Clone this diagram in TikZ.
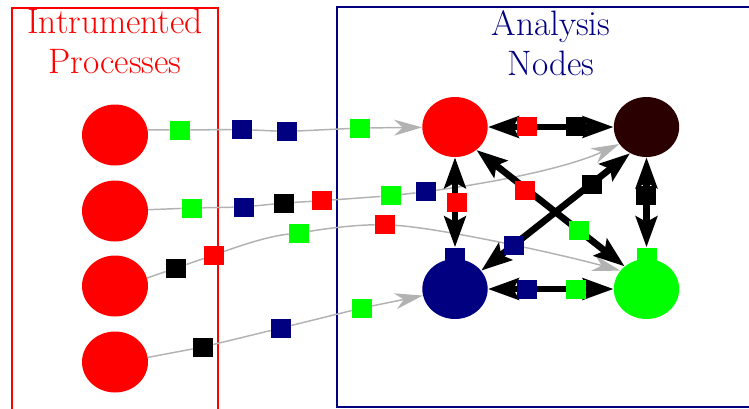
\documentclass[tikz,border=0pt]{standalone}
\usepackage{fontspec}
\usetikzlibrary{shapes.geometric,arrows.meta}
\definecolor{navyc}{RGB}{0,0,128}
\definecolor{greenc}{RGB}{0,255,0}
\definecolor{redc}{RGB}{255,0,0}
\definecolor{brownc}{RGB}{43,0,0}
\definecolor{grayc}{RGB}{178,178,178}
\begin{document}
\begin{tikzpicture}[x=0.75pt,y=-0.75pt,
 procnode/.style={ellipse, fill=redc, minimum width=49.5pt, minimum height=45.75pt, inner sep=0pt},
 anode/.style={ellipse, minimum width=49pt, minimum height=45pt, inner sep=0pt},
 msgsq/.style={rectangle, minimum width=15pt, minimum height=14.25pt, inner sep=0pt},
 tabsq/.style={rectangle, minimum width=15pt, minimum height=15pt, inner sep=0pt},
 graypath/.style={draw=grayc, line width=1.1pt, -{Stealth[length=21pt,width=12pt,inset=6.5pt]}},
 blackarrow/.style={draw=black, line width=5pt, {Stealth[length=23pt,width=16pt,inset=4pt]}-{Stealth[length=23pt,width=16pt,inset=4pt]}},
 titletext/.style={font=\fontsize{26.5}{30}\selectfont, anchor=base, inner sep=0pt}]

\useasboundingbox (0,0) rectangle (749,408);
\clip (0,0) rectangle (749,408);

% boxes
\draw[redc, line width=1.3pt] (11.7,430) -- (11.7,8) -- (217.7,8) -- (217.7,430);
\draw[navyc, line width=1.7pt] (337,6.7) rectangle (760,406.7);

% titles
\node[titletext, text=redc] (ti1) at (115,33.5) {Intrumented};
\node[titletext, text=redc] (ti2) at (115,73) {Processes};
\node[titletext, text=navyc] (ti3) at (551,35) {Analysis};
\node[titletext, text=navyc] (ti4) at (551,75) {Nodes};

% instrumented processes
\node[procnode] (p1) at (115,135) {};
\node[procnode] (p2) at (115,211) {};
\node[procnode] (p3) at (115,286) {};
\node[procnode] (p4) at (115,362) {};

% analysis nodes
\node[tabsq, fill=navyc] (t3) at (455,257.5) {};
\node[tabsq, fill=greenc] (t4) at (646.5,257.5) {};
\node[anode, fill=redc] (a1) at (455,127) {};
\node[anode, fill=brownc] (a2) at (646.5,127) {};
\node[anode, fill=navyc] (a3) at (455,289) {};
\node[anode, fill=greenc] (a4) at (646.5,289) {};

% messages on gray paths
\node[msgsq, fill=greenc] (s11) at (180,130) {};
\node[msgsq, fill=navyc]  (s12) at (242,129.5) {};
\node[msgsq, fill=navyc]  (s13) at (287,131.5) {};
\node[msgsq, fill=greenc] (s14) at (360,128) {};

\node[msgsq, fill=greenc] (s21) at (192,208) {};
\node[msgsq, fill=navyc]  (s22) at (244,207) {};
\node[msgsq, fill=black]  (s23) at (284,203) {};
\node[msgsq, fill=redc]   (s24) at (322,200.7) {};
\node[msgsq, fill=greenc] (s25) at (390.7,195.7) {};
\node[msgsq, fill=navyc]  (s26) at (425.7,191.7) {};

\node[msgsq, fill=black]  (s31) at (176,268) {};
\node[msgsq, fill=redc]   (s32) at (214,255) {};
\node[msgsq, fill=greenc] (s33) at (299,233) {};
\node[msgsq, fill=redc]   (s34) at (385,224.7) {};

\node[msgsq, fill=black]  (s41) at (203,347) {};
\node[msgsq, fill=navyc]  (s42) at (281,328) {};
\node[msgsq, fill=greenc] (s43) at (362,308) {};

% gray paths
\draw[graypath] (p1.9) -- (s11) -- (s12) -- (s13) -- (s14) -- (a1);
\draw[graypath] (p2) -- (s21) -- (s22) -- (s23) -- (s24) -- (s25) -- (s26)
   .. controls (496,182) and (567,168) .. (a2.212);
\draw[graypath] (p3.14) -- (s31) -- (s32)
   .. controls (245,244) and (270,236) .. (s33)
   .. controls (330,228) and (355,225) .. (s34)
   .. controls (440,228) and (560,254) .. (a4.145);
\draw[graypath] (p4.8) -- (s41) -- (s42) -- (s43) -- (a3);

% black links
\draw[blackarrow] (a1) -- (a2);
\draw[blackarrow] (a1) -- (t3);
\draw[blackarrow] (a2) -- (t4);
\draw[blackarrow] (a3) -- (a4);
\draw[blackarrow] (a1.313) -- (a4.134);
\draw[blackarrow] (a3.35) -- (a2.238);

% messages on black links
\node[msgsq, fill=redc]   (q1) at (527,126) {};
\node[msgsq, fill=black]  (q2) at (576,126) {};
\node[msgsq, fill=redc]   (q3) at (456.5,202) {};
\node[msgsq, fill=black]  (q4) at (645.7,195) {};
\node[msgsq, fill=navyc]  (q5) at (527,289) {};
\node[msgsq, fill=greenc] (q6) at (576,289) {};
\node[msgsq, fill=redc]   (q7) at (525,190) {};
\node[msgsq, fill=greenc] (q8) at (579.3,230) {};
\node[msgsq, fill=navyc]  (q9) at (514.3,245) {};
\node[msgsq, fill=black]  (q10) at (592.3,184.3) {};
\end{tikzpicture}
\end{document}
